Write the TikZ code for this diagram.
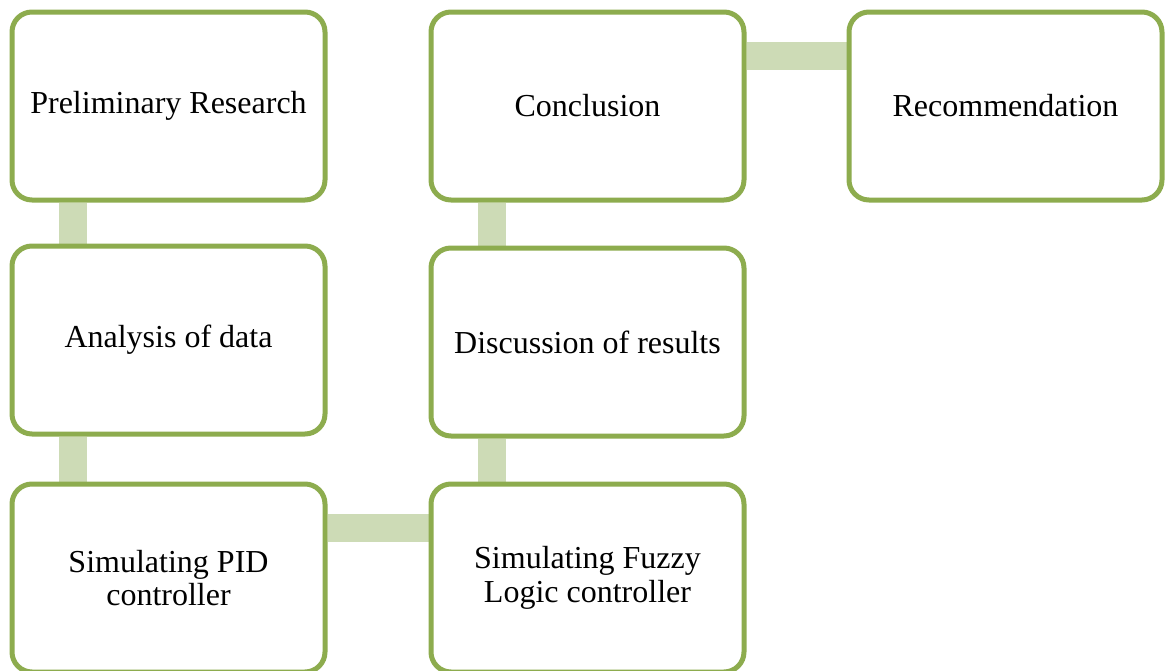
\documentclass[tikz,border=0pt]{standalone}
\usepackage{fontspec}
\setmainfont{Liberation Serif}
\usetikzlibrary{backgrounds}

\definecolor{boxgreen}{RGB}{141,172,78}
\definecolor{linkgreen}{RGB}{205,219,182}

\begin{document}
\begin{tikzpicture}[x=0.75pt, y=-0.75pt,
    stage/.style={draw=boxgreen, line width=3.75pt, fill=white, rounded corners=15pt,
        minimum width=234.75pt, minimum height=141pt, align=center,
        font=\fontsize{24}{25}\selectfont},
    link/.style={linkgreen, line width=21pt}]
    \useasboundingbox (0,0) rectangle (1168,671);

    % Boxes
    \node[stage] (prelim) at (168.5,106) {Preliminary Research};
    \node[stage] (analysis) at (168.5,340) {Analysis of data};
    \node[stage] (pid) at (168.5,578) {Simulating PID\\controller};
    \node[stage] (fuzzy) at (587.5,578) {Simulating Fuzzy\\Logic controller};
    \node[stage] (discuss) at (587.5,342) {Discussion of results};
    \node[stage] (concl) at (587.5,106) {Conclusion};
    \node[stage] (recom) at (1005.5,106) {Recommendation};

    % Links
    \begin{scope}[on background layer]
        \draw[link] ([xshift=47.5pt]prelim.south west) -- ([xshift=47.5pt]analysis.north west);
        \draw[link] ([xshift=47.5pt]analysis.south west) -- ([xshift=47.5pt]pid.north west);
        \draw[link] ([yshift=-34.5pt]pid.north east) -- ([yshift=-34.5pt]fuzzy.north west);
        \draw[link] ([xshift=47.5pt]fuzzy.north west) -- ([xshift=47.5pt]discuss.south west);
        \draw[link] ([xshift=47.5pt]discuss.north west) -- ([xshift=47.5pt]concl.south west);
        \draw[link] ([yshift=-35pt]concl.north east) -- ([yshift=-35pt]recom.north west);
    \end{scope}
\end{tikzpicture}
\end{document}
